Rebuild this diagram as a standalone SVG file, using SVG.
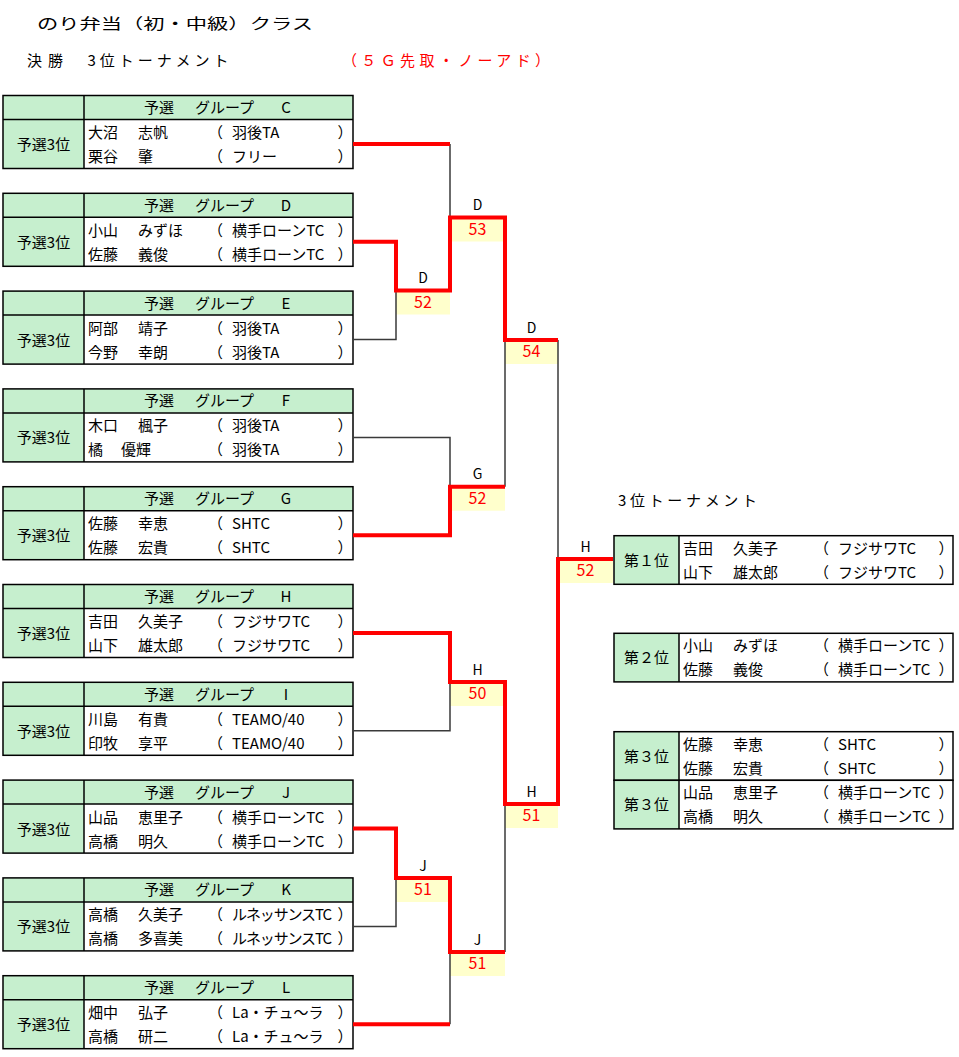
<svg xmlns="http://www.w3.org/2000/svg" xmlns:xlink="http://www.w3.org/1999/xlink" width="959" height="1057" viewBox="0 0 959 1057">
<style>
text { font-family: "Noto Sans CJK JP", "Noto Sans CJK SC", sans-serif; fill: #000; font-size: 15px; }
.gr { fill: #c6efce; }
.wh { fill: #ffffff; }
.bd { fill: none; stroke: #000; stroke-width: 1.5; }
.thin { fill: none; stroke: #3a3a3a; stroke-width: 1.5; }
.red { fill: none; stroke: #ff0000; stroke-width: 4; stroke-linejoin: miter; }
.yb { fill: #ffffcc; }
.sc { fill: #ff0000; font-size: 16px; text-anchor: middle; }
.lb { font-size: 14px; text-anchor: middle; }
.mid { text-anchor: middle; }
</style>
<defs>
<g id="tblbg">
<rect x="3" y="0" width="350" height="24" class="gr"/>
<rect x="3" y="24" width="81" height="49" class="gr"/>
<rect x="84" y="24" width="269" height="49" class="wh"/>
<rect x="3" y="0" width="350" height="73" class="bd"/>
<line x1="3" y1="24" x2="353" y2="24" class="bd"/>
<line x1="84" y1="0" x2="84" y2="73" class="bd"/>
</g>
<g id="rtbg">
<rect x="614" y="0" width="65" height="48.6" class="gr"/>
<rect x="679" y="0" width="274" height="48.6" class="wh"/>
<rect x="614" y="0" width="339" height="48.6" class="bd"/>
<line x1="679" y1="0" x2="679" y2="48.6" class="bd"/>
</g>
</defs>
<rect x="0" y="0" width="959" height="1057" fill="#ffffff"/>

<g id="titles">
<text x="37" y="29" font-size="19" textLength="276" lengthAdjust="spacingAndGlyphs">のり弁当（初・中級）クラス</text>
<text x="27" y="66" font-size="17" textLength="36">決勝</text>
<text x="87.5" y="66" font-size="17" textLength="141">3位トーナメント</text>
<text x="342" y="66" font-size="17" textLength="208" style="fill:#ff0000">（５Ｇ先取・ノーアド）</text>
<text x="618" y="506" font-size="17" textLength="139">3位トーナメント</text>
</g>

<g id="grpC" transform="translate(0,95.5)">
<use xlink:href="#tblbg"/>
<text x="144" y="17.5">予選</text><text x="195" y="17.5">グループ</text><text x="286" y="17.5" class="mid">C</text>
<text x="43.5" y="54.5" class="mid">予選3位</text>
<text x="88" y="42.5">大沼</text><text x="138" y="42.5">志帆</text><text x="208" y="42.5">（</text><text x="232" y="42.5">羽後TA</text><text x="337.5" y="42.5">）</text>
<text x="88" y="66.5">栗谷</text><text x="138" y="66.5">肇</text><text x="208" y="66.5">（</text><text x="232" y="66.5">フリー</text><text x="337.5" y="66.5">）</text>
</g>

<g id="grpD" transform="translate(0,193.3)">
<use xlink:href="#tblbg"/>
<text x="144" y="17.5">予選</text><text x="195" y="17.5">グループ</text><text x="286" y="17.5" class="mid">D</text>
<text x="43.5" y="54.5" class="mid">予選3位</text>
<text x="88" y="42.5">小山</text><text x="138" y="42.5">みずほ</text><text x="208" y="42.5">（</text><text x="232" y="42.5">横手ローンTC</text><text x="337.5" y="42.5">）</text>
<text x="88" y="66.5">佐藤</text><text x="138" y="66.5">義俊</text><text x="208" y="66.5">（</text><text x="232" y="66.5">横手ローンTC</text><text x="337.5" y="66.5">）</text>
</g>

<g id="grpE" transform="translate(0,291.1)">
<use xlink:href="#tblbg"/>
<text x="144" y="17.5">予選</text><text x="195" y="17.5">グループ</text><text x="286" y="17.5" class="mid">E</text>
<text x="43.5" y="54.5" class="mid">予選3位</text>
<text x="88" y="42.5">阿部</text><text x="138" y="42.5">靖子</text><text x="208" y="42.5">（</text><text x="232" y="42.5">羽後TA</text><text x="337.5" y="42.5">）</text>
<text x="88" y="66.5">今野</text><text x="138" y="66.5">幸朗</text><text x="208" y="66.5">（</text><text x="232" y="66.5">羽後TA</text><text x="337.5" y="66.5">）</text>
</g>

<g id="grpF" transform="translate(0,388.9)">
<use xlink:href="#tblbg"/>
<text x="144" y="17.5">予選</text><text x="195" y="17.5">グループ</text><text x="286" y="17.5" class="mid">F</text>
<text x="43.5" y="54.5" class="mid">予選3位</text>
<text x="88" y="42.5">木口</text><text x="138" y="42.5">楓子</text><text x="208" y="42.5">（</text><text x="232" y="42.5">羽後TA</text><text x="337.5" y="42.5">）</text>
<text x="88" y="66.5">橘</text><text x="121" y="66.5">優輝</text><text x="208" y="66.5">（</text><text x="232" y="66.5">羽後TA</text><text x="337.5" y="66.5">）</text>
</g>

<g id="grpG" transform="translate(0,486.7)">
<use xlink:href="#tblbg"/>
<text x="144" y="17.5">予選</text><text x="195" y="17.5">グループ</text><text x="286" y="17.5" class="mid">G</text>
<text x="43.5" y="54.5" class="mid">予選3位</text>
<text x="88" y="42.5">佐藤</text><text x="138" y="42.5">幸恵</text><text x="208" y="42.5">（</text><text x="232" y="42.5">SHTC</text><text x="337.5" y="42.5">）</text>
<text x="88" y="66.5">佐藤</text><text x="138" y="66.5">宏貴</text><text x="208" y="66.5">（</text><text x="232" y="66.5">SHTC</text><text x="337.5" y="66.5">）</text>
</g>

<g id="grpH" transform="translate(0,584.5)">
<use xlink:href="#tblbg"/>
<text x="144" y="17.5">予選</text><text x="195" y="17.5">グループ</text><text x="286" y="17.5" class="mid">H</text>
<text x="43.5" y="54.5" class="mid">予選3位</text>
<text x="88" y="42.5">吉田</text><text x="138" y="42.5">久美子</text><text x="208" y="42.5">（</text><text x="232" y="42.5">フジサワTC</text><text x="337.5" y="42.5">）</text>
<text x="88" y="66.5">山下</text><text x="138" y="66.5">雄太郎</text><text x="208" y="66.5">（</text><text x="232" y="66.5">フジサワTC</text><text x="337.5" y="66.5">）</text>
</g>

<g id="grpI" transform="translate(0,682.3)">
<use xlink:href="#tblbg"/>
<text x="144" y="17.5">予選</text><text x="195" y="17.5">グループ</text><text x="286" y="17.5" class="mid">I</text>
<text x="43.5" y="54.5" class="mid">予選3位</text>
<text x="88" y="42.5">川島</text><text x="138" y="42.5">有貴</text><text x="208" y="42.5">（</text><text x="232" y="42.5">TEAMO/40</text><text x="337.5" y="42.5">）</text>
<text x="88" y="66.5">印牧</text><text x="138" y="66.5">享平</text><text x="208" y="66.5">（</text><text x="232" y="66.5">TEAMO/40</text><text x="337.5" y="66.5">）</text>
</g>

<g id="grpJ" transform="translate(0,780.1)">
<use xlink:href="#tblbg"/>
<text x="144" y="17.5">予選</text><text x="195" y="17.5">グループ</text><text x="286" y="17.5" class="mid">J</text>
<text x="43.5" y="54.5" class="mid">予選3位</text>
<text x="88" y="42.5">山品</text><text x="138" y="42.5">恵里子</text><text x="208" y="42.5">（</text><text x="232" y="42.5">横手ローンTC</text><text x="337.5" y="42.5">）</text>
<text x="88" y="66.5">高橋</text><text x="138" y="66.5">明久</text><text x="208" y="66.5">（</text><text x="232" y="66.5">横手ローンTC</text><text x="337.5" y="66.5">）</text>
</g>

<g id="grpK" transform="translate(0,877.9)">
<use xlink:href="#tblbg"/>
<text x="144" y="17.5">予選</text><text x="195" y="17.5">グループ</text><text x="286" y="17.5" class="mid">K</text>
<text x="43.5" y="54.5" class="mid">予選3位</text>
<text x="88" y="42.5">高橋</text><text x="138" y="42.5">久美子</text><text x="208" y="42.5">（</text><text x="232" y="42.5" textLength="100">ルネッサンスTC</text><text x="337.5" y="42.5">）</text>
<text x="88" y="66.5">高橋</text><text x="138" y="66.5">多喜美</text><text x="208" y="66.5">（</text><text x="232" y="66.5" textLength="100">ルネッサンスTC</text><text x="337.5" y="66.5">）</text>
</g>

<g id="grpL" transform="translate(0,975.7)">
<use xlink:href="#tblbg"/>
<text x="144" y="17.5">予選</text><text x="195" y="17.5">グループ</text><text x="286" y="17.5" class="mid">L</text>
<text x="43.5" y="54.5" class="mid">予選3位</text>
<text x="88" y="42.5">畑中</text><text x="138" y="42.5">弘子</text><text x="208" y="42.5">（</text><text x="232" y="42.5">La・チュ～ラ</text><text x="337.5" y="42.5">）</text>
<text x="88" y="66.5">高橋</text><text x="138" y="66.5">研二</text><text x="208" y="66.5">（</text><text x="232" y="66.5">La・チュ～ラ</text><text x="337.5" y="66.5">）</text>
</g>

<g id="nodeD52"><rect x="396" y="290.5" width="54" height="24" class="yb"/><text x="423" y="283" class="lb">D</text><text x="423" y="307.8" class="sc">52</text></g>
<g id="nodeD53"><rect x="450" y="217.5" width="55" height="24" class="yb"/><text x="477.5" y="210" class="lb">D</text><text x="477.5" y="234.8" class="sc">53</text></g>
<g id="nodeD54"><rect x="505" y="340" width="53" height="24" class="yb"/><text x="531.5" y="332.5" class="lb">D</text><text x="531.5" y="357.3" class="sc">54</text></g>
<g id="nodeG52"><rect x="450" y="486.7" width="55" height="24" class="yb"/><text x="477.5" y="479.2" class="lb">G</text><text x="477.5" y="504" class="sc">52</text></g>
<g id="nodeH52"><rect x="558" y="559" width="55" height="24" class="yb"/><text x="585.5" y="551.5" class="lb">H</text><text x="585.5" y="576.3" class="sc">52</text></g>
<g id="nodeH50"><rect x="450" y="682" width="55" height="24" class="yb"/><text x="477.5" y="674.5" class="lb">H</text><text x="477.5" y="699.3" class="sc">50</text></g>
<g id="nodeH51"><rect x="505" y="804" width="53" height="24" class="yb"/><text x="531.5" y="796.5" class="lb">H</text><text x="531.5" y="821.3" class="sc">51</text></g>
<g id="nodeJ51a"><rect x="396" y="878" width="54" height="24" class="yb"/><text x="423" y="870.5" class="lb">J</text><text x="423" y="895.3" class="sc">51</text></g>
<g id="nodeJ51b"><rect x="450" y="952" width="55" height="24" class="yb"/><text x="477.5" y="944.5" class="lb">J</text><text x="477.5" y="969.3" class="sc">51</text></g>

<g id="connectors">
<path class="thin" d="M450,144 V217.5"/>
<path class="thin" d="M353,339.6 H396 V290.5"/>
<path class="thin" d="M353,437.4 H450 V486.7"/>
<path class="thin" d="M505,340 V486.7"/>
<path class="thin" d="M558,340 V559"/>
<path class="thin" d="M353,730.8 H450 V682"/>
<path class="thin" d="M353,926.4 H396 V878"/>
<path class="thin" d="M450,1024.2 V952"/>
<path class="thin" d="M505,804 V952"/>
<path class="red" d="M353,144 H450"/>
<path class="red" d="M353,241.8 H396 V290.5 H450 V217.5 H505 V340 H558"/>
<path class="red" d="M353,535.2 H450 V486.7 H505"/>
<path class="red" d="M353,633 H450 V682 H505 V804 H558 V559 H613"/>
<path class="red" d="M353,828.6 H396 V878 H450 V952 H505"/>
<path class="red" d="M353,1024.2 H450"/>
</g>

<g id="rank1" transform="translate(0,535.7)">
<use xlink:href="#rtbg"/>
<text x="646.5" y="30" class="mid" font-size="16">第１位</text>
<text x="683" y="18">吉田</text><text x="733" y="18">久美子</text><text x="814" y="18">（</text><text x="838" y="18">フジサワTC</text><text x="938.5" y="18">）</text>
<text x="683" y="42">山下</text><text x="733" y="42">雄太郎</text><text x="814" y="42">（</text><text x="838" y="42">フジサワTC</text><text x="938.5" y="42">）</text>
</g>

<g id="rank2" transform="translate(0,633.3)">
<use xlink:href="#rtbg"/>
<text x="646.5" y="30" class="mid" font-size="16">第２位</text>
<text x="683" y="18">小山</text><text x="733" y="18">みずほ</text><text x="814" y="18">（</text><text x="838" y="18">横手ローンTC</text><text x="938.5" y="18">）</text>
<text x="683" y="42">佐藤</text><text x="733" y="42">義俊</text><text x="814" y="42">（</text><text x="838" y="42">横手ローンTC</text><text x="938.5" y="42">）</text>
</g>

<g id="rank3a" transform="translate(0,731.7)">
<use xlink:href="#rtbg"/>
<text x="646.5" y="30" class="mid" font-size="16">第３位</text>
<text x="683" y="18">佐藤</text><text x="733" y="18">幸恵</text><text x="814" y="18">（</text><text x="838" y="18">SHTC</text><text x="938.5" y="18">）</text>
<text x="683" y="42">佐藤</text><text x="733" y="42">宏貴</text><text x="814" y="42">（</text><text x="838" y="42">SHTC</text><text x="938.5" y="42">）</text>
</g>

<g id="rank3b" transform="translate(0,780.3)">
<use xlink:href="#rtbg"/>
<text x="646.5" y="30" class="mid" font-size="16">第３位</text>
<text x="683" y="18">山品</text><text x="733" y="18">恵里子</text><text x="814" y="18">（</text><text x="838" y="18">横手ローンTC</text><text x="938.5" y="18">）</text>
<text x="683" y="42">高橋</text><text x="733" y="42">明久</text><text x="814" y="42">（</text><text x="838" y="42">横手ローンTC</text><text x="938.5" y="42">）</text>
</g>
</svg>
